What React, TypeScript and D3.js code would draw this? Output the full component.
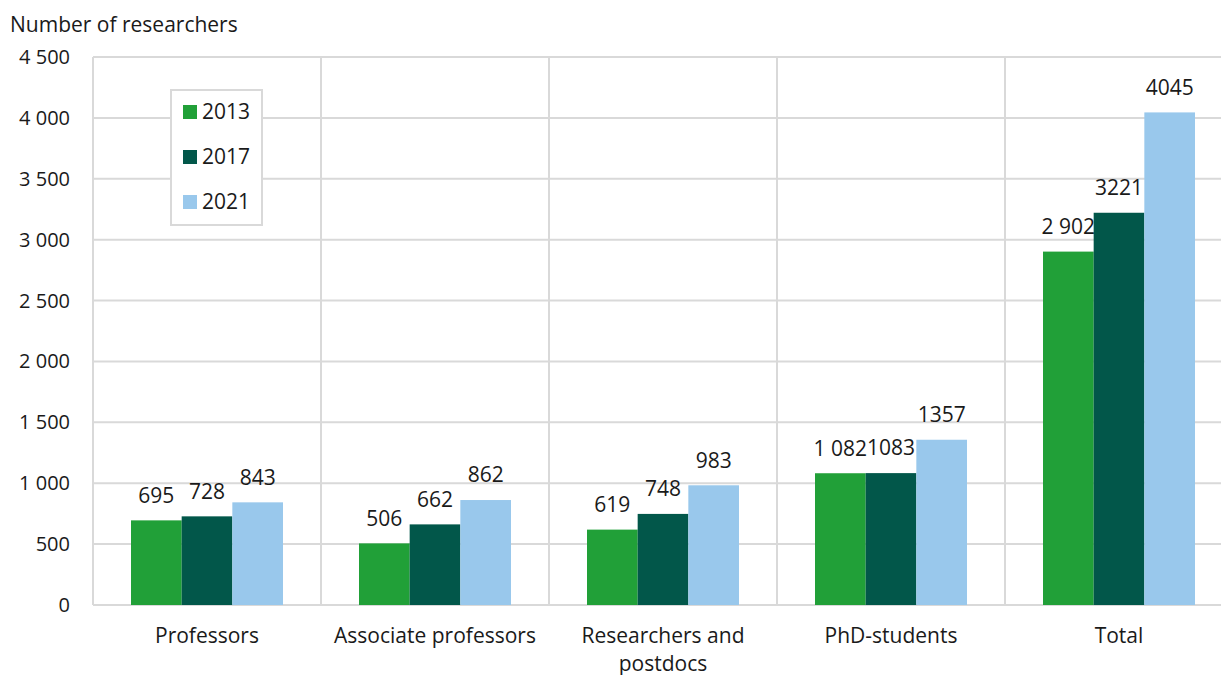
import React from "react";
import * as d3 from "d3";

const categories = ["Professors", "Associate professors", "Researchers and postdocs", "PhD-students", "Total"];
const categoryLines = [["Professors"], ["Associate professors"], ["Researchers and", "postdocs"], ["PhD-students"], ["Total"]];
const seriesNames = ["2013", "2017", "2021"];
const values2013 = [695, 506, 619, 1082, 2902];
const values2017 = [728, 662, 748, 1083, 3221];
const values2021 = [843, 862, 983, 1357, 4045];
const yTicks = [0, 500, 1000, 1500, 2000, 2500, 3000, 3500, 4000, 4500];
const colors = ["#21a038", "#02574a", "#99c8ec"];

const seriesValues = [values2013, values2017, values2021];
const spaceFmt = (v: number) => d3.format(",")(v).replace(/,/g, " ");
const labelFormats = [spaceFmt, (v: number) => String(v), (v: number) => String(v)];

export default function App() {
  const W = 1221, H = 675;
  const left = 93, right = 1233, top = 57, bottom = 605;
  const x = d3.scaleBand<string>().domain(categories).range([left, right]).paddingInner(0).paddingOuter(0);
  const inner = d3.scaleBand<string>().domain(seriesNames).range([0, x.bandwidth()]).paddingInner(0).paddingOuter(0.75);
  const y = d3.scaleLinear().domain([0, 4500]).range([bottom, top]);
  const grid = "#d9d9d9";
  const font = "'Open Sans', 'Noto Sans', sans-serif";
  const fs = 21;

  return (
    <svg width={W} height={H} style={{ position: "absolute", left: 0, top: 0, background: "#fff" }} fontFamily={font}>
      <rect x={0} y={0} width={W} height={H} fill="#fff" />
      {yTicks.map((t) => (
        <g key={t}>
          <line x1={left} x2={right} y1={y(t)} y2={y(t)} stroke={grid} strokeWidth={2} />
          <text x={70} y={y(t)} dy="0.35em" textAnchor="end" fontSize={20} fill="#1a1a1a">
            {spaceFmt(t)}
          </text>
        </g>
      ))}
      {categories.map((c) => (
        <line key={c} x1={x(c) as number} x2={x(c) as number} y1={top} y2={bottom} stroke={grid} strokeWidth={2} />
      ))}
      {seriesNames.map((s, si) =>
        categories.map((c, ci) => {
          const v = seriesValues[si][ci];
          const bx = (x(c) as number) + (inner(s) as number);
          return (
            <g key={s + c}>
              <rect x={bx} y={y(v)} width={inner.bandwidth()} height={bottom - y(v)} fill={colors[si]} />
              <text x={bx + inner.bandwidth() / 2} y={y(v) - 25} dy="0.35em" textAnchor="middle" fontSize={fs} fill="#1a1a1a">
                {labelFormats[si](v)}
              </text>
            </g>
          );
        })
      )}
      {categories.map((c, ci) => (
        <text key={c} x={(x(c) as number) + x.bandwidth() / 2} y={636} textAnchor="middle" fontSize={fs} fill="#1a1a1a">
          {categoryLines[ci].map((ln, li) => (
            <tspan key={li} x={(x(c) as number) + x.bandwidth() / 2} dy={li === 0 ? "0.35em" : 28}>
              {ln}
            </tspan>
          ))}
        </text>
      ))}
      <text x={10} y={25} dy="0.35em" fontSize={fs} fill="#1a1a1a">Number of researchers</text>
      <rect x={171} y={90} width={91} height={135} fill="#fff" stroke={grid} strokeWidth={2} />
      {seriesNames.map((s, si) => (
        <g key={s}>
          <rect x={183} y={105 + si * 45} width={14} height={14} fill={colors[si]} />
          <text x={202} y={112 + si * 45} dy="0.35em" fontSize={fs} fill="#1a1a1a">{s}</text>
        </g>
      ))}
    </svg>
  );
}
